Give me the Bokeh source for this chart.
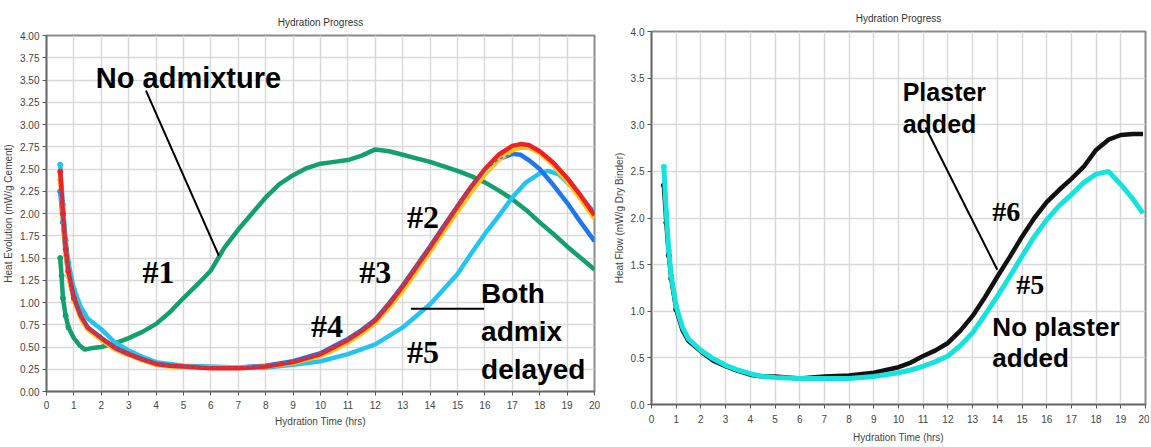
from bokeh.plotting import figure
from bokeh.layouts import row, column
from bokeh.models import Range1d, FixedTicker, Label, PrintfTickFormatter
from bokeh.core.properties import value
from bokeh.embed import file_html
from bokeh.resources import INLINE

# ---------------- data: left panel (Heat Evolution) ----------------
green_x = [0.5, 0.55, 0.6, 0.7, 0.8, 1.0, 1.2, 1.4, 1.7, 2.0, 2.5, 3, 3.5, 4, 4.5, 5, 5.5, 6, 6.5, 7, 7.5,
           8, 8.5, 9, 9.5, 10, 10.5, 11, 11.5, 12, 12.5, 13, 13.5, 14, 14.5, 15, 15.5, 16, 16.5, 17, 17.5,
           18, 18.5, 19, 19.5, 20]
green_y = [1.5, 1.3, 1.05, 0.85, 0.72, 0.6, 0.52, 0.47, 0.49, 0.5, 0.54, 0.6, 0.67, 0.76, 0.89, 1.05, 1.2,
           1.36, 1.62, 1.82, 2.0, 2.18, 2.33, 2.43, 2.51, 2.56, 2.58, 2.6, 2.65, 2.72, 2.7, 2.66, 2.62, 2.58,
           2.53, 2.48, 2.42, 2.35, 2.26, 2.16, 2.04, 1.9, 1.77, 1.63, 1.5, 1.37]

mix_x = [0.5, 0.6, 0.7, 0.8, 1.0, 1.25, 1.5, 2, 2.5, 3, 3.5, 4, 4.5, 5, 6, 7, 8, 9, 10, 10.5, 11, 11.5, 12,
         12.5, 13, 13.5, 14, 14.5, 15, 15.5, 16, 16.5, 17, 17.3, 17.6, 18, 18.5, 19, 19.5, 20]
red_y = [2.47, 2.0, 1.6, 1.35, 1.05, 0.85, 0.72, 0.6, 0.49, 0.42, 0.36, 0.31, 0.29, 0.28, 0.26, 0.26, 0.28,
         0.33, 0.42, 0.5, 0.58, 0.68, 0.8, 0.98, 1.18, 1.4, 1.62, 1.85, 2.08, 2.3, 2.5, 2.66, 2.76, 2.78,
         2.77, 2.7, 2.57, 2.4, 2.2, 1.98]
yellow_y = [2.38, 1.95, 1.55, 1.3, 1.02, 0.82, 0.7, 0.58, 0.47, 0.41, 0.35, 0.3, 0.28, 0.28, 0.27, 0.27,
            0.28, 0.32, 0.4, 0.47, 0.55, 0.65, 0.77, 0.94, 1.13, 1.35, 1.57, 1.8, 2.02, 2.24, 2.44, 2.6,
            2.71, 2.74, 2.74, 2.68, 2.54, 2.36, 2.16, 1.94]
blue_y = [2.25, 1.9, 1.55, 1.3, 1.04, 0.84, 0.72, 0.6, 0.49, 0.42, 0.36, 0.31, 0.29, 0.28, 0.27, 0.27,
          0.29, 0.34, 0.43, 0.51, 0.59, 0.69, 0.81, 0.99, 1.19, 1.41, 1.63, 1.86, 2.08, 2.3, 2.48, 2.61,
          2.67, 2.66, 2.6, 2.5, 2.32, 2.12, 1.9, 1.69]
cyan_x = [0.5, 0.6, 0.7, 0.8, 1.0, 1.25, 1.5, 2, 2.5, 3, 3.5, 4, 5, 6, 7, 8, 9, 10, 11, 12, 13, 14, 15, 15.5,
          16, 16.5, 17, 17.5, 18, 18.3, 18.7, 19.2, 19.6, 20]
cyan_y = [2.55, 2.1, 1.7, 1.45, 1.15, 0.95, 0.82, 0.7, 0.55, 0.46, 0.39, 0.33, 0.29, 0.28, 0.27, 0.27, 0.3,
          0.34, 0.42, 0.53, 0.72, 0.98, 1.32, 1.55, 1.77, 1.97, 2.18, 2.35, 2.45, 2.48, 2.44, 2.29, 2.15, 2.01]

# ---------------- data: right panel (Heat Flow) ----------------
right_x = [0.5, 0.6, 0.7, 0.8, 1.0, 1.25, 1.5, 2, 2.5, 3, 3.5, 4, 4.5, 5, 6, 7, 8, 9, 10, 10.5, 11, 11.5,
           12, 12.5, 13, 13.5, 14, 14.5, 15, 15.5, 16, 16.5, 17, 17.5, 18, 18.5, 19, 19.5, 19.9]
black_y = [2.35, 1.95, 1.6, 1.35, 1.02, 0.8, 0.68, 0.57, 0.47, 0.41, 0.36, 0.32, 0.3, 0.3, 0.28, 0.3, 0.31,
           0.34, 0.4, 0.45, 0.52, 0.58, 0.66, 0.79, 0.95, 1.15, 1.37, 1.58, 1.8, 2.0, 2.17, 2.3, 2.42, 2.55,
           2.73, 2.84, 2.89, 2.9, 2.9]
aqua_y = [2.55, 2.05, 1.65, 1.38, 1.05, 0.83, 0.7, 0.58, 0.49, 0.42, 0.37, 0.33, 0.3, 0.29, 0.28, 0.28, 0.28,
          0.3, 0.34, 0.37, 0.41, 0.46, 0.52, 0.63, 0.77, 0.96, 1.16, 1.37, 1.59, 1.8, 1.98, 2.13, 2.25, 2.38,
          2.47, 2.5, 2.36, 2.2, 2.05]

x_ticks = list(range(0, 21))
left_y_ticks = [i * 0.25 for i in range(17)]
right_y_ticks = [i * 0.5 for i in range(9)]

# annotation anchors (data units)
left_labels = [("No admixture", 1.80, 3.517, "Liberation Sans", 29),
               ("#1", 3.50, 1.34, "Liberation Serif", 32),
               ("#2", 13.16, 1.957, "Liberation Serif", 32),
               ("#3", 11.41, 1.34, "Liberation Serif", 32),
               ("#4", 9.65, 0.739, "Liberation Serif", 32),
               ("#5", 13.16, 0.439, "Liberation Serif", 32),
               ("Both", 15.86, 1.096, "Liberation Sans", 28),
               ("admix", 15.86, 0.672, "Liberation Sans", 28),
               ("delayed", 15.86, 0.252, "Liberation Sans", 28)]
left_pointers = [(3.63, 3.38, 6.29, 1.526), (13.3, 0.93, 15.97, 0.93)]
right_labels = [("Plaster", 10.17, 3.35, "Liberation Sans", 25),
                ("added", 10.17, 3.01, "Liberation Sans", 25),
                ("#6", 13.8, 2.07, "Liberation Serif", 28),
                ("#5", 14.77, 1.285, "Liberation Serif", 28),
                ("No plaster", 13.8, 0.833, "Liberation Sans", 26),
                ("added", 13.8, 0.502, "Liberation Sans", 26)]
right_pointers = [(11.1, 2.97, 14.0, 1.445)]


def make_fig(width, height, borders, ylabel, yticks, fmt, title_standoff, lab_standoff, ax_standoff):
    p = figure(width=width, height=height, output_backend="svg", toolbar_location=None,
               x_range=Range1d(0, 20), y_range=Range1d(0, 4), title="Hydration Progress",
               min_border_left=borders[0], min_border_right=borders[1],
               min_border_top=borders[2], min_border_bottom=borders[3])
    p.title.align = "center"
    p.title.text_font = "Liberation Sans"
    p.title.text_font_size = "10px"
    p.title.text_font_style = "normal"
    p.title.text_color = "#333333"
    p.title.standoff = title_standoff
    p.xaxis.ticker = FixedTicker(ticks=x_ticks)
    p.yaxis.ticker = FixedTicker(ticks=yticks)
    p.yaxis.formatter = PrintfTickFormatter(format=fmt)
    p.xaxis.axis_label = "Hydration Time (hrs)"
    p.yaxis.axis_label = ylabel
    for ax in (p.xaxis, p.yaxis):
        ax.axis_label_text_font = "Liberation Sans"
        ax.axis_label_text_font_size = "10px"
        ax.axis_label_text_font_style = "normal"
        ax.axis_label_text_color = "#444444"
        ax.major_label_text_font = "Liberation Sans"
        ax.major_label_text_font_size = "10px"
        ax.major_label_text_color = "#444444"
        ax.major_label_standoff = 3
        ax.axis_label_standoff = 3
        ax.minor_tick_line_color = None
        ax.major_tick_out = 4
        ax.major_tick_in = 0
        ax.major_tick_line_color = "#555555"
        ax.axis_line_color = "#666666"
        ax.axis_line_width = 1.5
    p.xaxis.major_label_standoff = lab_standoff
    p.xaxis.axis_label_standoff = ax_standoff
    p.grid.grid_line_color = "#d9d9d9"
    p.grid.grid_line_width = 1.5
    p.outline_line_color = "#8a8a8a"
    p.outline_line_width = 2
    p.background_fill_color = "white"
    return p


def add_text(p, items, pointers):
    for txt, x, y, font, size in items:
        p.add_layout(Label(x=x, y=y, text=txt, text_font=font, text_font_size=f"{size}px",
                           text_font_style="bold", text_color="black",
                           text_baseline="alphabetic", text_align="left"))
    p.segment(x0=[q[0] for q in pointers], y0=[q[1] for q in pointers],
              x1=[q[2] for q in pointers], y1=[q[3] for q in pointers],
              line_color="black", line_width=2)


p1 = make_fig(600, 445, (38, 6, 35, 54), "Heat Evolution (mW/g Cement)", left_y_ticks, "%.2f", 16, 5, 4)
series = [(green_x, green_y, "#14a06c"), (cyan_x, cyan_y, "#22c4f0"), (mix_x, blue_y, "#2277e8"),
          (mix_x, yellow_y, "#ffc41e"), (mix_x, red_y, "#ee2222")]
for xs, ys, c in series:
    p1.line(xs, ys, line_color=c, line_width=4.5)
    p1.scatter(xs[:5], ys[:5], size=5, color=c)
p1.line(mix_x, blue_y, line_color="#2277e8", line_width=1.5, line_dash="3 3")
add_text(p1, left_labels, left_pointers)

p2 = make_fig(549, 445, (51, 4, 31, 40), "Heat Flow (mW/g Dry Binder)", right_y_ticks, "%.1f", 16, 6, 6)
for ys, c, w in [(black_y, "#111111", 4.5), (aqua_y, "#18e2dc", 5)]:
    p2.line(right_x, ys, line_color=c, line_width=w)
    p2.scatter(right_x[:5], ys[:5], size=5, color=c)
add_text(p2, right_labels, right_pointers)

layout = row(column(p1), column(p2))
open("out.html", "w").write(file_html(layout, INLINE))
